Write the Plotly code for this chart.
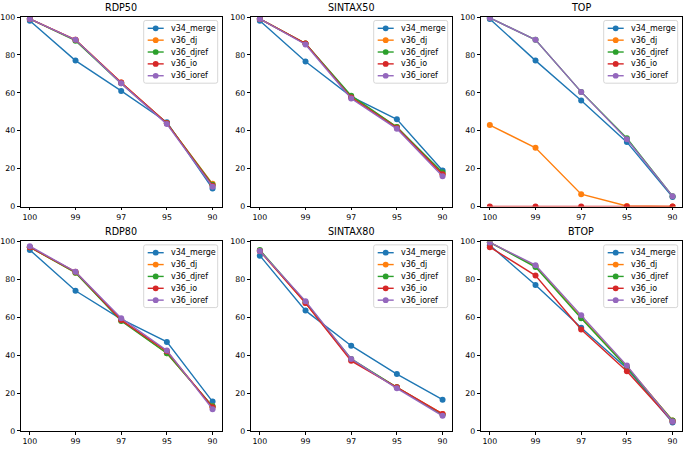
import plotly.graph_objects as go

categories = ["100", "99", "97", "95", "90"]
series_names = ["v34_merge", "v36_dj", "v36_djref", "v36_io", "v36_ioref"]
colors = ["#1f77b4", "#ff7f0e", "#2ca02c", "#d62728", "#9467bd"]
panel_titles = ["RDP50", "SINTAX50", "TOP", "RDP80", "SINTAX80", "BTOP"]
y_ticks = [0, 20, 40, 60, 80, 100]

rdp50_v34_merge = [98, 77, 61, 44.5, 9.5]
rdp50_v36_dj = [99, 88, 65.5, 44, 12]
rdp50_v36_djref = [99, 87.5, 65, 44, 11.5]
rdp50_v36_io = [99, 88, 65.5, 44, 11]
rdp50_v36_ioref = [99, 88, 65, 43.5, 10.5]

sintax50_v34_merge = [98, 76.5, 58, 46, 19]
sintax50_v36_dj = [99, 86, 58, 42, 17]
sintax50_v36_djref = [99, 86, 58.5, 42, 18]
sintax50_v36_io = [99, 86, 57.5, 41.5, 17]
sintax50_v36_ioref = [99, 85.5, 57, 41, 16]

top_v34_merge = [99, 77, 56, 34, 5]
top_v36_dj = [43, 31, 6.5, 0.3, 0]
top_v36_djref = [99.5, 88, 60.5, 36, 5.5]
top_v36_io = [0, 0, 0, 0, 0]
top_v36_ioref = [99.5, 88, 60.5, 35.5, 5.5]

rdp80_v34_merge = [95.5, 74, 59, 47, 15.5]
rdp80_v36_dj = [97, 83.5, 58.5, 41, 13]
rdp80_v36_djref = [97, 83.5, 58, 41, 13]
rdp80_v36_io = [97, 84, 58.5, 42, 12.5]
rdp80_v36_ioref = [97.5, 84, 59.5, 42.5, 11.5]

sintax80_v34_merge = [92.5, 63.5, 45, 30, 16.5]
sintax80_v36_dj = [95, 67.5, 37.5, 23, 9]
sintax80_v36_djref = [95.5, 68, 38, 23, 8.5]
sintax80_v36_io = [95, 67.5, 37, 23, 9]
sintax80_v36_ioref = [95, 68.5, 38, 22.5, 8]

btop_v34_merge = [98, 77, 54.5, 33, 4.5]
btop_v36_dj = [99.5, 87, 60, 34, 5.5]
btop_v36_djref = [99.5, 86.5, 59.5, 33.5, 5.5]
btop_v36_io = [97, 82, 53.5, 31.5, 5]
btop_v36_ioref = [99.5, 87.5, 61, 34.5, 5]

panels = [
    [rdp50_v34_merge, rdp50_v36_dj, rdp50_v36_djref, rdp50_v36_io, rdp50_v36_ioref],
    [sintax50_v34_merge, sintax50_v36_dj, sintax50_v36_djref, sintax50_v36_io, sintax50_v36_ioref],
    [top_v34_merge, top_v36_dj, top_v36_djref, top_v36_io, top_v36_ioref],
    [rdp80_v34_merge, rdp80_v36_dj, rdp80_v36_djref, rdp80_v36_io, rdp80_v36_ioref],
    [sintax80_v34_merge, sintax80_v36_dj, sintax80_v36_djref, sintax80_v36_io, sintax80_v36_ioref],
    [btop_v34_merge, btop_v36_dj, btop_v36_djref, btop_v36_io, btop_v36_ioref],
]

W, H = 685, 449
col_px = [(20.7, 221.7), (250.7, 451.7), (480.7, 681.7)]
row_px = [(13.3, 206.7), (242.3, 435.7)]
FONT = "DejaVu Sans"


def X(p):
    return p / W


def Y(p):
    return 1 - p / H


fig = go.Figure()
shapes = []
annotations = []
layout = dict(
    width=W, height=H, margin=dict(l=0, r=0, t=0, b=0),
    paper_bgcolor="white", plot_bgcolor="white",
    font=dict(family=FONT, size=8, color="black"),
    showlegend=False,
)

for i, series in enumerate(panels):
    r, c = divmod(i, 3)
    n = i + 1
    xa = "x" if n == 1 else f"x{n}"
    ya = "y" if n == 1 else f"y{n}"
    for name, vals, col in zip(series_names, series, colors):
        fig.add_trace(go.Scatter(
            x=categories, y=vals, name=name, mode="lines+markers",
            line=dict(color=col, width=1.4),
            marker=dict(color=col, size=6),
            xaxis=xa, yaxis=ya, showlegend=False,
        ))
    x0, x1 = col_px[c]
    y0, y1 = row_px[r]
    axis_common = dict(
        showline=True, linecolor="black", linewidth=0.8, mirror=True,
        ticks="outside", ticklen=3, tickwidth=0.8, tickcolor="black",
        showgrid=False, zeroline=False,
        tickfont=dict(family=FONT, size=7.8, color="black"),
    )
    layout["xaxis" if n == 1 else f"xaxis{n}"] = dict(
        domain=[X(x0), X(x1)], anchor=ya, type="category",
        range=[-0.2, 4.2], **axis_common)
    layout["yaxis" if n == 1 else f"yaxis{n}"] = dict(
        domain=[Y(y1), Y(y0)], anchor=xa, range=[0, 100],
        tickvals=y_ticks, **axis_common)

    # title
    annotations.append(dict(
        text=panel_titles[i], x=X((x0 + x1) / 2), y=Y(y0 - 2.5),
        xref="paper", yref="paper", xanchor="center", yanchor="bottom",
        showarrow=False, font=dict(family=FONT, size=9.6, color="black"),
    ))

    # legend (matplotlib-style, upper right inside axes)
    lw, lh = 74, 64
    lr = x1 - 4
    lt = y0 + 3.5
    ll = lr - lw
    lb = lt + lh
    rad = 2
    path = (f"M {X(ll + rad)},{Y(lt)} L {X(lr - rad)},{Y(lt)} "
            f"Q {X(lr)},{Y(lt)} {X(lr)},{Y(lt + rad)} "
            f"L {X(lr)},{Y(lb - rad)} Q {X(lr)},{Y(lb)} {X(lr - rad)},{Y(lb)} "
            f"L {X(ll + rad)},{Y(lb)} Q {X(ll)},{Y(lb)} {X(ll)},{Y(lb - rad)} "
            f"L {X(ll)},{Y(lt + rad)} Q {X(ll)},{Y(lt)} {X(ll + rad)},{Y(lt)} Z")
    shapes.append(dict(type="path", xref="paper", yref="paper", path=path,
                       fillcolor="rgba(255,255,255,0.8)",
                       line=dict(color="#cccccc", width=0.8), layer="above"))
    for k, (name, col) in enumerate(zip(series_names, colors)):
        cy = lt + 8 + 12.1 * k
        shapes.append(dict(type="line", xref="paper", yref="paper",
                           x0=X(ll + 4), x1=X(ll + 20), y0=Y(cy), y1=Y(cy),
                           line=dict(color=col, width=1.4), layer="above"))
        rr = 2.9
        shapes.append(dict(type="circle", xref="paper", yref="paper",
                           x0=X(ll + 12 - rr), x1=X(ll + 12 + rr),
                           y0=Y(cy - rr), y1=Y(cy + rr),
                           fillcolor=col, line=dict(color=col, width=0),
                           layer="above"))
        annotations.append(dict(
            text=name, x=X(ll + 25), y=Y(cy), xref="paper", yref="paper",
            xanchor="left", yanchor="middle", showarrow=False,
            font=dict(family=FONT, size=8, color="black"),
        ))

layout["shapes"] = shapes
layout["annotations"] = annotations
fig.update_layout(**layout)
fig.write_html(
    "out.html",
    config={"displayModeBar": False},
    post_script="document.body.style.margin='0';document.body.style.overflow='hidden';",
)
